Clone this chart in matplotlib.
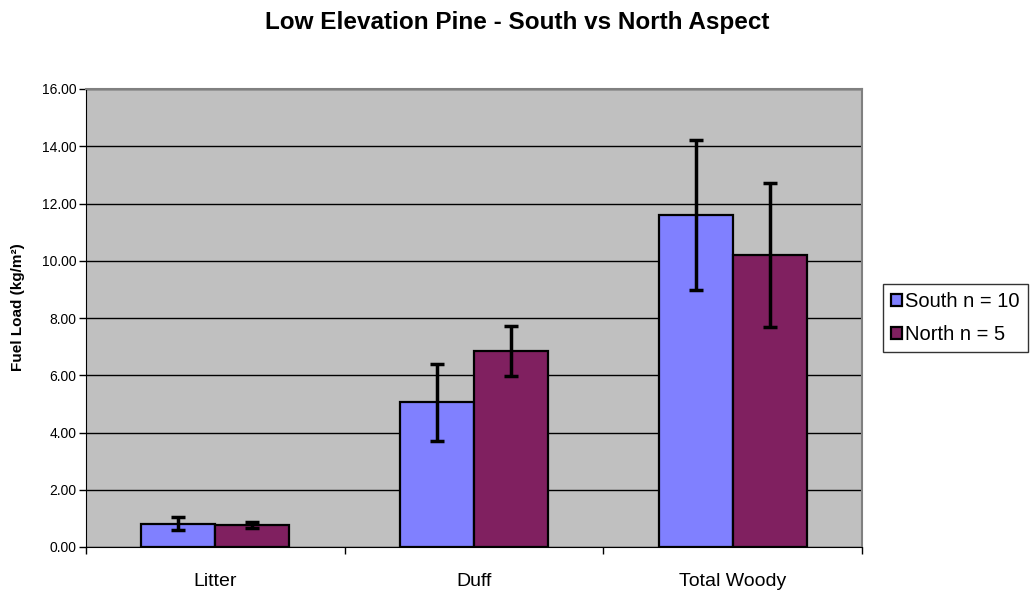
import numpy as np
import matplotlib.pyplot as plt

plt.rcParams['font.family'] = ['Liberation Sans', 'DejaVu Sans']

categories = ['Litter', 'Duff', 'Total Woody']
south = [0.82, 5.05, 11.60]
south_err = [0.22, 1.35, 2.63]
north = [0.78, 6.85, 10.20]
north_err = [0.10, 0.87, 2.52]
series_labels = ['South n = 10', 'North n = 5']
yticks = np.arange(0, 16.01, 2)

fig = plt.figure(figsize=(10.35, 5.93), dpi=100)
ax = fig.add_axes([86/1035, 1-547/593, 776/1035, 458/593])
ax.set_facecolor('#C0C0C0')

x = np.arange(len(categories))
w = 1/3.5
err_kw = dict(ecolor='black', elinewidth=2.5, capsize=5, capthick=2.5)
b1 = ax.bar(x - w/2, south, w, yerr=south_err, color='#8080FF',
            edgecolor='black', linewidth=1.6, error_kw=err_kw, zorder=3,
            label=series_labels[0])
b2 = ax.bar(x + w/2, north, w, yerr=north_err, color='#802060',
            edgecolor='black', linewidth=1.6, error_kw=err_kw, zorder=3,
            label=series_labels[1])

ax.set_xlim(-0.5, len(categories) - 0.5)
ax.set_ylim(0, 16)
ax.set_yticks(yticks)
ax.set_yticklabels([f'{v:.2f}' for v in yticks], fontsize=10)
ax.yaxis.grid(True, color='black', linewidth=1)
ax.set_axisbelow(True)

ax.set_xticks(x)
ax.set_xticklabels(categories, fontsize=14)
ax.set_xticks(np.arange(-0.5, len(categories)), minor=True)
ax.tick_params(axis='x', which='major', length=0, pad=19)
ax.tick_params(axis='x', which='minor', length=5, width=1, direction='out')
ax.tick_params(axis='y', length=5, width=1, direction='out', pad=2)

for s in ['top', 'right']:
    ax.spines[s].set_color('#808080')
    ax.spines[s].set_linewidth(1.5)
ax.spines['left'].set_color('black')
ax.spines['bottom'].set_color('black')

ax.set_ylabel('Fuel Load (kg/m²)', fontsize=11, fontweight='bold')
ax.yaxis.set_label_coords(-0.078, 0.524)

fig.suptitle('Low Elevation Pine - South vs North Aspect', x=0.5, y=1-22/593,
             va='center', fontsize=17.5, fontweight='bold')

leg = fig.legend(handles=[b1, b2], loc='upper left',
                 bbox_to_anchor=(883/1035, 1-284/593), fontsize=14.5,
                 frameon=True, fancybox=False, edgecolor='black',
                 handlelength=0.55, handleheight=0.55, handletextpad=0.15,
                 borderpad=0.4, labelspacing=0.7, borderaxespad=0)
leg.get_frame().set_linewidth(1)

fig.savefig('out.png', dpi=100)
